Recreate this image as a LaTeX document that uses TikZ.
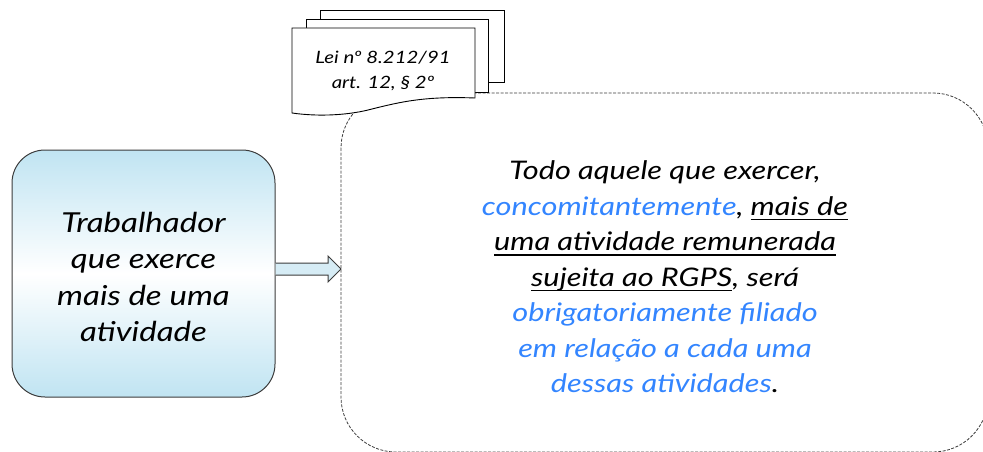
\documentclass[tikz,border=0pt]{standalone}
\usepackage{fontspec}
\setmainfont{Lato}[FakeStretch=1.2]
\newcommand\myul[1]{\leavevmode\setbox0\hbox{#1}\rlap{\vrule height -3.4pt depth 4.7pt width \wd0}\box0}
\usetikzlibrary{calc}
\definecolor{bluetxt}{RGB}{51,133,255}
\definecolor{boxblue}{RGB}{192,228,242}
\definecolor{arrowblue}{RGB}{214,236,245}
\definecolor{edgegray}{RGB}{60,60,60}
\begin{document}
\begin{tikzpicture}[x=1pt,y=-1pt,
  pagestyle/.style={draw=black,line width=0.9pt,fill=white},
  leftbox/.style={draw=edgegray,line width=1pt,rounded corners=33pt,
    top color=boxblue,bottom color=boxblue,middle color=white,
    minimum width=263pt,minimum height=247pt,inner sep=0pt},
  dashbox/.style={draw=edgegray,line width=0.8pt,dash pattern=on 3pt off 1.5pt,rounded corners=55pt},
  blockarrow/.style={draw=edgegray,line width=1pt,fill=arrowblue,line join=miter},
  maintext/.style={align=center,font=\itshape\fontsize{25.6}{35.5}\selectfont,inner sep=0pt},
  lefttext/.style={align=center,font=\itshape\fontsize{27.5}{36.5}\selectfont,inner sep=0pt},
  doctext/.style={align=center,font=\itshape\fontsize{17}{25}\selectfont,inner sep=0pt}]
\useasboundingbox (0,0) rectangle (983,452);
\begin{scope}
\clip (0,0) rectangle (983,452);
% dashed big box
\draw[dashbox] (341,93) rectangle (988,452);
\end{scope}
\coordinate (dbwest) at (341,269);
% document stack
\draw[pagestyle] (320,10) rectangle (504,82);
\draw[pagestyle] (306,19) rectangle (488,92);
\draw[pagestyle] (292,28) -- (475,28) -- (475,98)
  .. controls (425,96) and (400,102) .. (372,109)
  .. controls (350,115) and (320,117) .. (292,113) -- cycle;
\node[doctext] (doc) at (383,71) {Lei nº 8.212/91\\art. 12, § 2º};
% left box
\node[leftbox] (L) at (143.5,273.5) {};
\node[lefttext] (Lt) at (143.5,277) {Trabalhador\\que exerce\\mais de uma\\atividade};
% block arrow
\coordinate (As) at (L.east |- dbwest);
\draw[blockarrow] ($(As)+(0,-6)$) -- ($(dbwest)+(-13,-6)$) -- ($(dbwest)+(-13,-13)$)
  -- (dbwest) -- ($(dbwest)+(-13,13)$) -- ($(dbwest)+(-13,6)$) -- ($(As)+(0,6)$);
% main text
\node[maintext] (T) at (665,277) {Todo aquele que exercer,\\
{\color{bluetxt}concomitantemente}, \myul{mais de}\\
\myul{uma atividade remunerada}\\
\myul{sujeita ao RGPS}, será\\
{\color{bluetxt}obrigatoriamente filiado}\\
{\color{bluetxt}em relação a cada uma}\\
{\color{bluetxt}dessas atividades}.};
\end{tikzpicture}
\end{document}
